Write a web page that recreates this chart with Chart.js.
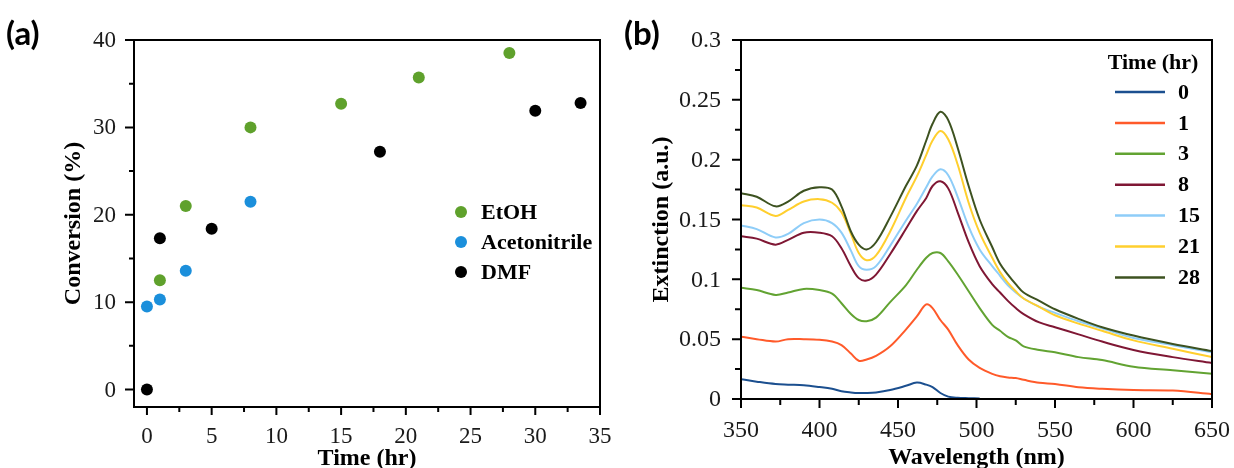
<!DOCTYPE html>
<html><head><meta charset="utf-8">
<script src="https://cdn.jsdelivr.net/npm/chart.js@4.4.1/dist/chart.umd.min.js"></script>
<style>
html,body{margin:0;padding:0;background:#fff;}
#wrap{position:relative;width:1234px;height:468px;overflow:hidden;background:#fff;}
canvas{position:absolute;top:0;}
#ca{left:0;} #cb{left:620px;}
</style></head><body>
<div id="wrap"><canvas id="ca" width="620" height="468"></canvas><canvas id="cb" width="614" height="468"></canvas></div>
<script>
// ---------- Panel (a) data ----------
const timeEtOH = [1, 3, 8, 15, 21, 28];
const convEtOH = [12.5, 21.0, 30.0, 32.7, 35.7, 38.5];
const timeMeCN = [0, 1, 3, 8];
const convMeCN = [9.5, 10.3, 13.6, 21.5];
const timeDMF  = [0, 1, 5, 18, 30, 33.5];
const convDMF  = [0, 17.3, 18.4, 27.2, 31.9, 32.8];
const seriesNamesA = ['EtOH', 'Acetonitrile', 'DMF'];
const xMajorA = [0, 5, 10, 15, 20, 25, 30, 35];
const xLabelsA = ['0', '5', '10', '15', '20', '25', '30', '35'];
const xMinorA = [2.5, 7.5, 12.5, 17.5, 22.5, 27.5, 32.5];
const yMajorA = [0, 10, 20, 30, 40];
const yLabelsA = ['0', '10', '20', '30', '40'];
const yMinorA = [5, 15, 25, 35];

// ---------- Panel (b) data ----------
const wavelength = [350,360,372,380,390,400,408,414,420,425,430,436,445,455,462,468,472,477,482,488,495,502,510,515,520,525,530,540,550,565,580,600,625,650];
const ext0  = [0.0165,0.0145,0.0125,0.012,0.0115,0.010,0.0085,0.0065,0.0055,0.005,0.005,0.0055,0.0075,0.011,0.0137,0.012,0.010,0.005,0.002,0.001,0.0007,0.0005,null,null,null,null,null,null,null,null,null,null,null,null];
const ext1  = [0.052,0.050,0.048,0.050,0.050,0.0495,0.048,0.045,0.038,0.032,0.033,0.036,0.044,0.058,0.069,0.079,0.076,0.066,0.058,0.045,0.033,0.026,0.021,0.019,0.018,0.0175,0.016,0.0135,0.0126,0.0098,0.0085,0.0075,0.007,0.004];
const ext3  = [0.093,0.091,0.087,0.089,0.092,0.091,0.088,0.080,0.071,0.066,0.065,0.068,0.081,0.095,0.108,0.118,0.122,0.122,0.115,0.104,0.090,0.076,0.062,0.057,0.052,0.049,0.044,0.041,0.039,0.035,0.0325,0.027,0.024,0.021];
const ext8  = [0.136,0.134,0.129,0.133,0.139,0.139,0.136,0.126,0.111,0.101,0.099,0.104,0.121,0.142,0.157,0.168,0.178,0.182,0.176,0.156,0.131,0.111,0.096,0.089,0.082,0.076,0.071,0.064,0.060,0.054,0.048,0.041,0.035,0.030];
const ext15 = [0.145,0.142,0.135,0.138,0.147,0.150,0.147,0.139,0.124,0.111,0.108,0.111,0.128,0.149,0.163,0.177,0.186,0.192,0.187,0.169,0.144,0.125,0.111,0.103,0.095,0.089,0.084,0.077,0.072,0.065,0.059,0.051,0.045,0.039];
const ext21 = [0.162,0.160,0.153,0.158,0.165,0.167,0.164,0.156,0.138,0.122,0.116,0.120,0.140,0.168,0.186,0.204,0.216,0.224,0.217,0.196,0.164,0.139,0.118,0.106,0.097,0.090,0.084,0.077,0.070,0.063,0.057,0.049,0.042,0.035];
const ext28 = [0.172,0.169,0.161,0.165,0.174,0.177,0.175,0.161,0.140,0.129,0.125,0.131,0.152,0.178,0.195,0.216,0.230,0.240,0.233,0.210,0.178,0.150,0.127,0.113,0.104,0.096,0.089,0.082,0.075,0.067,0.060,0.053,0.046,0.040];
const timeLabelsB = ['0', '1', '3', '8', '15', '21', '28'];
const xMajorB = [350, 400, 450, 500, 550, 600, 650];
const xLabelsB = ['350', '400', '450', '500', '550', '600', '650'];
const xMinorB = [375, 425, 475, 525, 575, 625];
const yMajorB = [0, 0.05, 0.1, 0.15, 0.2, 0.25, 0.3];
const yLabelsB = ['0', '0.05', '0.1', '0.15', '0.2', '0.25', '0.3'];
const yMinorB = [0.025, 0.075, 0.125, 0.175, 0.225, 0.275];

const SERIF = '"Times New Roman", "Liberation Serif", serif';
const SANS = 'Lato, "Liberation Sans", sans-serif';

function decor(o) {
  return {
    id: 'decor',
    afterDraw(chart) {
      const ctx = chart.ctx, a = chart.chartArea;
      const xs = chart.scales.x, ys = chart.scales.y;
      ctx.save();
      ctx.strokeStyle = '#000'; ctx.lineWidth = 2;
      ctx.strokeRect(a.left, a.top, a.right - a.left, a.bottom - a.top);
      // ticks
      ctx.beginPath();
      o.xMajor.forEach(v => { const p = xs.getPixelForValue(v); ctx.moveTo(p, a.bottom); ctx.lineTo(p, a.bottom + o.xMajLen); });
      o.xMinor.forEach(v => { const p = xs.getPixelForValue(v); ctx.moveTo(p, a.bottom); ctx.lineTo(p, a.bottom + o.xMinLen); });
      o.yMajor.forEach(v => { const p = ys.getPixelForValue(v); ctx.moveTo(a.left, p); ctx.lineTo(a.left - o.yMajLen, p); });
      o.yMinor.forEach(v => { const p = ys.getPixelForValue(v); ctx.moveTo(a.left, p); ctx.lineTo(a.left - o.yMinLen, p); });
      ctx.stroke();
      // tick labels
      ctx.fillStyle = '#1a1a1a';
      ctx.font = o.tickFont;
      ctx.textAlign = 'center'; ctx.textBaseline = 'alphabetic';
      o.xMajor.forEach((v, i) => ctx.fillText(o.xLabels[i], xs.getPixelForValue(v), o.xLabelBase));
      ctx.textAlign = 'right'; ctx.textBaseline = 'middle';
      o.yMajor.forEach((v, i) => ctx.fillText(o.yLabels[i], o.yLabelRight, ys.getPixelForValue(v) + 1));
      // axis titles
      ctx.fillStyle = '#000';
      ctx.font = 'bold 24px ' + SERIF;
      ctx.textAlign = 'center'; ctx.textBaseline = 'alphabetic';
      ctx.fillText(o.xTitle, (a.left + a.right) / 2, o.xTitleBase);
      ctx.save();
      ctx.translate(o.yTitleX, (a.top + a.bottom) / 2);
      ctx.rotate(-Math.PI / 2);
      ctx.textBaseline = 'middle';
      ctx.fillText(o.yTitle, 0, 0);
      ctx.restore();
      // panel letter
      ctx.font = 'bold 33px ' + SANS;
      ctx.textAlign = 'left'; ctx.textBaseline = 'middle';
      ctx.fillText(o.panel, o.panelX, 34);
      // legend
      o.legend(chart, ctx);
      ctx.restore();
    }
  };
}

// ---------- Chart (a) ----------
const colorsA = ['#5FA12C', '#1B8FDB', '#000000'];
new Chart(document.getElementById('ca'), {
  type: 'scatter',
  data: {
    datasets: [
      { label: seriesNamesA[0], data: timeEtOH.map((t, i) => ({ x: t, y: convEtOH[i] })), backgroundColor: colorsA[0] },
      { label: seriesNamesA[1], data: timeMeCN.map((t, i) => ({ x: t, y: convMeCN[i] })), backgroundColor: colorsA[1] },
      { label: seriesNamesA[2], data: timeDMF.map((t, i) => ({ x: t, y: convDMF[i] })), backgroundColor: colorsA[2] }
    ].map(d => Object.assign(d, { pointRadius: 6, pointBorderWidth: 0, pointBackgroundColor: d.backgroundColor, pointHoverRadius: 6 }))
  },
  options: {
    responsive: false, animation: false,
    layout: { padding: { left: 0, right: 20, top: 40, bottom: 0 } },
    plugins: { legend: { display: false }, tooltip: { enabled: false } },
    scales: {
      x: { type: 'linear', min: -1, max: 35, grid: { display: false }, border: { display: false }, ticks: { display: false },
           afterFit: s => { s.height = 61; } },
      y: { type: 'linear', min: -2, max: 40, grid: { display: false }, border: { display: false }, ticks: { display: false },
           afterFit: s => { s.width = 134; } }
    }
  },
  plugins: [decor({
    xMajor: xMajorA, xMinor: xMinorA, yMajor: yMajorA, yMinor: yMinorA,
    xLabels: xLabelsA, yLabels: yLabelsA,
    xMajLen: 8, xMinLen: 5, yMajLen: 9, yMinLen: 5,
    tickFont: '23px ' + SERIF, xLabelBase: 443, yLabelRight: 116,
    xTitle: 'Time (hr)', xTitleBase: 465, yTitle: 'Conversion (%)', yTitleX: 74,
    panel: '(a)', panelX: 6,
    legend(chart, ctx) {
      ctx.font = 'bold 22px ' + SERIF;
      ctx.textAlign = 'left'; ctx.textBaseline = 'middle';
      chart.data.datasets.forEach((d, i) => {
        const y = 212 + i * 30;
        ctx.fillStyle = d.backgroundColor;
        ctx.beginPath(); ctx.arc(461, y, 6, 0, Math.PI * 2); ctx.fill();
        ctx.fillStyle = '#000';
        ctx.fillText(d.label, 481, y + 1);
      });
    }
  })]
});

// ---------- Chart (b) ----------
const colorsB = ['#1B4F8F', '#FF5A2A', '#62A332', '#7F1734', '#8ECDF8', '#FFCF2E', '#3D5220'];
const extSeries = [ext0, ext1, ext3, ext8, ext15, ext21, ext28];
new Chart(document.getElementById('cb'), {
  type: 'line',
  data: {
    datasets: extSeries.map((s, k) => ({
      label: timeLabelsB[k],
      data: wavelength.map((w, i) => ({ x: w, y: s[i] })),
      borderColor: colorsB[k], borderWidth: 2, pointRadius: 0, fill: false,
      tension: 0.35, spanGaps: false,
      order: 10 - k
    }))
  },
  options: {
    responsive: false, animation: false,
    layout: { padding: { left: 0, right: 22, top: 40, bottom: 0 } },
    plugins: { legend: { display: false }, tooltip: { enabled: false } },
    scales: {
      x: { type: 'linear', min: 350, max: 650, grid: { display: false }, border: { display: false }, ticks: { display: false },
           afterFit: s => { s.height = 69; } },
      y: { type: 'linear', min: 0, max: 0.3, grid: { display: false }, border: { display: false }, ticks: { display: false },
           afterFit: s => { s.width = 121; } }
    }
  },
  plugins: [decor({
    xMajor: xMajorB, xMinor: xMinorB, yMajor: yMajorB, yMinor: yMinorB,
    xLabels: xLabelsB, yLabels: yLabelsB,
    xMajLen: 9, xMinLen: 6, yMajLen: 9, yMinLen: 6,
    tickFont: '24px ' + SERIF, xLabelBase: 437, yLabelRight: 101,
    xTitle: 'Wavelength (nm)', xTitleBase: 464, yTitle: 'Extinction (a.u.)', yTitleX: 42,
    panel: '(b)', panelX: 4,
    legend(chart, ctx) {
      ctx.font = 'bold 22px ' + SERIF;
      ctx.fillStyle = '#000';
      ctx.textAlign = 'center'; ctx.textBaseline = 'middle';
      ctx.fillText('Time (hr)', 533, 63);
      ctx.textAlign = 'left';
      chart.data.datasets.forEach((d, i) => {
        const y = 92 + i * 30.9;
        ctx.strokeStyle = d.borderColor; ctx.lineWidth = 2.5;
        ctx.beginPath(); ctx.moveTo(495, y); ctx.lineTo(545, y); ctx.stroke();
        ctx.fillStyle = '#000';
        ctx.fillText(d.label, 558, y + 1);
      });
    }
  })]
});
</script>
</body></html>
